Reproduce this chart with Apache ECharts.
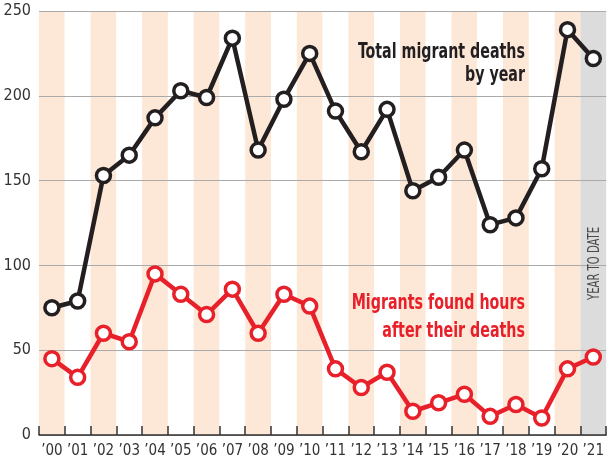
<!DOCTYPE html>
<html><head><meta charset="utf-8">
<script src="https://cdn.jsdelivr.net/npm/echarts@6/dist/echarts.min.js"></script>
<style>html,body{margin:0;padding:0;background:#fff}#c{width:607px;height:463px}</style>
</head><body><div id="c"></div>
<script>
var years = ["’00","’01","’02","’03","’04","’05","’06","’07","’08","’09","’10","’11","’12","’13","’14","’15","’16","’17","’18","’19","’20","’21"];
var totalDeaths = [75,79,153,165,187,203,199,234,168,198,225,191,167,192,144,152,168,124,128,157,239,222];
var foundHoursAfter = [45,34,60,55,95,83,71,86,60,83,76,39,28,37,14,19,24,11,18,10,39,46];
var yTicks = [0,50,100,150,200,250];
var bandColors = [];
for (var i = 0; i < years.length; i++) bandColors.push(i === years.length - 1 ? '#dcdcdc' : (i % 2 === 0 ? '#fde7d6' : '#ffffff'));

var FONT = '"Liberation Sans Narrow","DejaVu Sans Condensed","Roboto",sans-serif';
var chart = echarts.init(document.getElementById('c'), null, {renderer:'canvas'});
chart.setOption({
  animation:false,
  grid:{left:39,right:0,top:11,bottom:28,containLabel:false},
  xAxis:[
   {type:'category',data:years,boundaryGap:true,position:'bottom',
    axisLine:{show:false},axisTick:{show:false},axisLabel:{show:false},
    splitArea:{show:true,interval:0,areaStyle:{color:bandColors}},
    splitLine:{show:false}, z:0},
   {type:'category',data:years,boundaryGap:true,position:'bottom',offset:0,
    axisLine:{show:true,lineStyle:{color:'#333',width:1.5}},
    axisTick:{show:true,inside:true,length:9,interval:0,lineStyle:{color:'#333',width:1.5}},
    axisLabel:{color:'#333',fontFamily:FONT,fontSize:15,margin:9,interval:0},
    splitArea:{show:false},splitLine:{show:false}, z:4}
  ],
  yAxis:{type:'value',min:yTicks[0],max:yTicks[yTicks.length-1],interval:50,z:2,
    axisLine:{show:false},axisTick:{show:false},
    axisLabel:{color:'#333',fontFamily:FONT,fontSize:16,margin:8,padding:[9,0,0,0]},
    splitLine:{show:true,lineStyle:{color:'#aaaaaa',width:1.2}}},
  series:[
    {type:'line',xAxisIndex:0,data:totalDeaths,symbol:'circle',symbolSize:14,
     lineStyle:{color:'#231f20',width:4.5},
     itemStyle:{color:'#ffffff',borderColor:'#231f20',borderWidth:3.5},z:5},
    {type:'line',xAxisIndex:0,data:foundHoursAfter,symbol:'circle',symbolSize:14,
     lineStyle:{color:'#e8202a',width:4.5},
     itemStyle:{color:'#ffffff',borderColor:'#e8202a',borderWidth:3.5},z:5}
  ],
  graphic:[
    {type:'text',z:100,x:525,y:41,scaleX:0.72,style:{text:'Total migrant deaths\nby year',align:'right',verticalAlign:'top',fill:'#231f20',font:'bold 22px '+FONT,lineHeight:23}},
    {type:'text',z:100,x:525,y:289,scaleX:0.72,style:{text:'Migrants found hours\nafter their deaths',align:'right',verticalAlign:'top',fill:'#e8202a',font:'bold 22px '+FONT,lineHeight:28}},
    {type:'text',z:100,x:595,y:300,rotation:Math.PI/2,scaleX:0.7,style:{text:'YEAR TO DATE',align:'left',verticalAlign:'middle',fill:'#4a4a4a',font:'16px '+FONT}}
  ]
});
</script></body></html>
